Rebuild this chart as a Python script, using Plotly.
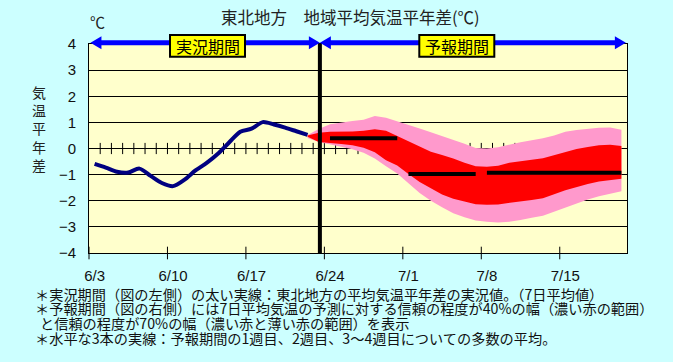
import plotly.graph_objects as go

# ---------------- data ----------------
# x axis: 48 daily categories 6/3 .. 7/20 (category i is centred at i + 0.5)
N_DAYS = 48
tick_labels = ["6/3", "6/10", "6/17", "6/24", "7/1", "7/8", "7/15"]
tick_day_index = [0, 7, 14, 21, 28, 35, 42]

# observed 7-day mean anomaly, 6/3 .. 6/22
obs_start_index = 0
obs_values = [-0.59, -0.73, -0.89, -0.92, -0.77, -1.05, -1.32, -1.44, -1.20, -0.84,
              -0.55, -0.20, 0.23, 0.64, 0.76, 1.01, 0.92, 0.80, 0.66, 0.52]

# forecast ranges, 6/22 .. 7/20
fc_start_index = 19
fc_70_hi = [0.52, 0.75, 0.93, 1.00, 1.05, 1.10, 1.24, 1.18, 1.05, 0.92,
            0.77, 0.62, 0.48, 0.32, 0.18, 0.02, 0.00, 0.05, 0.15, 0.24,
            0.32, 0.39, 0.50, 0.64, 0.71, 0.76, 0.79, 0.80, 0.72]
fc_40_hi = [0.50, 0.60, 0.64, 0.64, 0.65, 0.68, 0.74, 0.68, 0.48, 0.25,
            0.06, -0.12, -0.25, -0.38, -0.55, -0.68, -0.70, -0.66, -0.55, -0.48,
            -0.43, -0.37, -0.26, -0.12, -0.02, 0.06, 0.12, 0.14, 0.10]
fc_40_lo = [0.45, 0.25, 0.20, 0.17, 0.12, 0.03, -0.14, -0.45, -0.65, -0.98,
            -1.28, -1.53, -1.76, -1.92, -2.03, -2.13, -2.15, -2.14, -2.10, -2.03,
            -1.97, -1.90, -1.75, -1.60, -1.47, -1.36, -1.26, -1.20, -1.16]
fc_70_lo = [0.40, 0.25, 0.15, 0.07, -0.03, -0.16, -0.38, -0.68, -0.96, -1.33,
            -1.70, -2.00, -2.25, -2.48, -2.63, -2.76, -2.80, -2.83, -2.80, -2.74,
            -2.65, -2.57, -2.40, -2.25, -2.10, -1.95, -1.83, -1.73, -1.64]

# weekly ensemble means: week 1, week 2, weeks 3-4
week_start_index = [21, 28, 35]
week_end_index = [27, 34, 47]
week_means = [0.39, -0.98, -0.93]

divider_day = 20.6   # boundary between observed and forecast periods

# ---------------- styles / layout constants ----------------
FONT = "Noto Sans CJK JP"
TICK_FONT = "Liberation Sans"
PAPER_BG = "#CCFFFF"
PLOT_BG = "#FFFFCC"
W, H = 673, 362
ML, MR, MT, MB = 89, 46, 44, 109
PW, PH = W - ML - MR, H - MT - MB


def px_x(px):
    return (px - ML) / PW


def px_y(py):
    return (H - MB - py) / PH


def day_x(d):
    return d / N_DAYS


obs_x = [obs_start_index + i + 0.5 for i in range(len(obs_values))]
fc_x = [fc_start_index + i + 0.5 for i in range(len(fc_70_hi))]

fig = go.Figure()

# minor ticks crossing the zero line (every day)
fig.add_trace(go.Scatter(
    x=list(range(1, N_DAYS)), y=[0] * (N_DAYS - 1), mode="markers",
    marker=dict(symbol="line-ns", size=8, line=dict(width=1, color="black")),
    hoverinfo="skip", showlegend=False))

# major ticks crossing the bottom axis
fig.add_trace(go.Scatter(
    x=tick_day_index, y=[-4] * len(tick_day_index), mode="markers",
    marker=dict(symbol="line-ns", size=9, line=dict(width=1, color="black")),
    cliponaxis=False, hoverinfo="skip", showlegend=False))

# 70% band
fig.add_trace(go.Scatter(
    x=fc_x + fc_x[::-1], y=fc_70_hi + fc_70_lo[::-1], mode="lines",
    fill="toself", fillcolor="#FF99CC", line=dict(width=0, color="#FF99CC"),
    hoverinfo="skip", showlegend=False))

# 40% band
fig.add_trace(go.Scatter(
    x=fc_x + fc_x[::-1], y=fc_40_hi + fc_40_lo[::-1], mode="lines",
    fill="toself", fillcolor="#FF0000", line=dict(width=0, color="#FF0000"),
    hoverinfo="skip", showlegend=False))

# observed line
fig.add_trace(go.Scatter(
    x=obs_x, y=obs_values, mode="lines",
    line=dict(color="#000080", width=4, shape="spline", smoothing=0.8),
    hoverinfo="skip", showlegend=False))

# weekly means
for s, e, m in zip(week_start_index, week_end_index, week_means):
    fig.add_trace(go.Scatter(
        x=[s + 0.5, e + 0.5], y=[m, m], mode="lines",
        line=dict(color="black", width=4), hoverinfo="skip", showlegend=False))

# divider line
fig.add_trace(go.Scatter(
    x=[divider_day, divider_day], y=[-4, 4], mode="lines",
    line=dict(color="black", width=4), hoverinfo="skip", showlegend=False))

# ---------------- arrows and period labels ----------------
shapes = []
ay = px_y(42.8)
head_len = 11 / PW
head_h = 6.5 / PH


def arrow(x0, x1):
    out = [dict(type="line", xref="paper", yref="paper", x0=x0 + head_len * 0.8, x1=x1 - head_len * 0.8,
                y0=ay, y1=ay, line=dict(color="#0000FF", width=5), layer="above")]
    out.append(dict(type="path", xref="paper", yref="paper", layer="above",
                    path=f"M{x0},{ay} L{x0 + head_len},{ay + head_h} L{x0 + head_len},{ay - head_h} Z",
                    fillcolor="#0000FF", line=dict(width=0)))
    out.append(dict(type="path", xref="paper", yref="paper", layer="above",
                    path=f"M{x1},{ay} L{x1 - head_len},{ay + head_h} L{x1 - head_len},{ay - head_h} Z",
                    fillcolor="#0000FF", line=dict(width=0)))
    return out


shapes += arrow(day_x(0.13), day_x(divider_day))
shapes += arrow(day_x(divider_day), day_x(47.9))

labels = [("実況期間", 170, 245), ("予報期間", 419.3, 494.3)]
annotations = []
for text, bx0, bx1 in labels:
    shapes.append(dict(type="rect", xref="paper", yref="paper", layer="above",
                       x0=px_x(bx0), x1=px_x(bx1), y0=px_y(56.7), y1=px_y(35),
                       fillcolor="#FFFF00", line=dict(color="black", width=2)))
    annotations.append(dict(xref="paper", yref="paper", x=px_x((bx0 + bx1) / 2), y=px_y(45.8),
                            text=text, showarrow=False, xanchor="center", yanchor="middle",
                            font=dict(family=FONT, size=16, color="black")))

annotations.append(dict(xref="paper", yref="paper", x=px_x(350), y=px_y(16.5),
                        text="東北地方　地域平均気温平年差(℃)", showarrow=False,
                        xanchor="center", yanchor="middle",
                        font=dict(family=FONT, size=16.5, color="#222222")))
annotations.append(dict(xref="paper", yref="paper", x=px_x(97.5), y=px_y(21.5),
                        text="℃", showarrow=False, xanchor="center", yanchor="middle",
                        font=dict(family=FONT, size=15, color="#222222")))
annotations.append(dict(xref="paper", yref="paper", x=px_x(38.5), y=px_y(128.5),
                        text="気<br>温<br>平<br>年<br>差", showarrow=False,
                        xanchor="center", yanchor="middle",
                        font=dict(family=FONT, size=14, color="#222222")))

footer = [
    ("＊実況期間（図の左側）の太い実線：東北地方の平均気温平年差の実況値。（7日平均値）", 33, 293.5),
    ("＊予報期間（図の右側）には7日平均気温の予測に対する信頼の程度が40%の幅（濃い赤の範囲）", 33, 308),
    ("と信頼の程度が70%の幅（濃い赤と薄い赤の範囲）を表示", 38, 323),
    ("＊水平な3本の実線：予報期間の1週目、2週目、3～4週目についての多数の平均。", 33, 338),
]
for text, fx, fy in footer:
    annotations.append(dict(xref="paper", yref="paper", x=px_x(fx), y=px_y(fy), text=text,
                            showarrow=False, xanchor="left", yanchor="middle",
                            font=dict(family=FONT, size=14.2, color="#111111")))

fig.update_layout(
    width=W, height=H, autosize=False,
    margin=dict(l=ML, r=MR, t=MT, b=MB, pad=0),
    paper_bgcolor=PAPER_BG, plot_bgcolor=PLOT_BG,
    showlegend=False, shapes=shapes, annotations=annotations,
    font=dict(family=FONT, color="#111111"),
    xaxis=dict(range=[0, N_DAYS], showgrid=False, zeroline=False,
               showline=True, linecolor="black", linewidth=1, mirror=True,
               tickvals=[d + 0.5 for d in tick_day_index], ticktext=tick_labels,
               ticks="", ticklabelstandoff=9,
               tickfont=dict(family=TICK_FONT, size=15, color="#111111"), fixedrange=True),
    yaxis=dict(range=[-4, 4], dtick=1, tick0=0, showgrid=True, gridcolor="black", gridwidth=1,
               zeroline=True, zerolinecolor="black", zerolinewidth=1,
               showline=True, linecolor="black", linewidth=1, mirror=True,
               ticks="", ticklabelstandoff=9,
               tickfont=dict(family=TICK_FONT, size=15, color="#111111"), fixedrange=True),
)

fig.write_html(
    "out.html",
    config={"displayModeBar": False, "staticPlot": True},
    post_script="document.body.style.margin='0';document.body.style.background='#CCFFFF';",
)
